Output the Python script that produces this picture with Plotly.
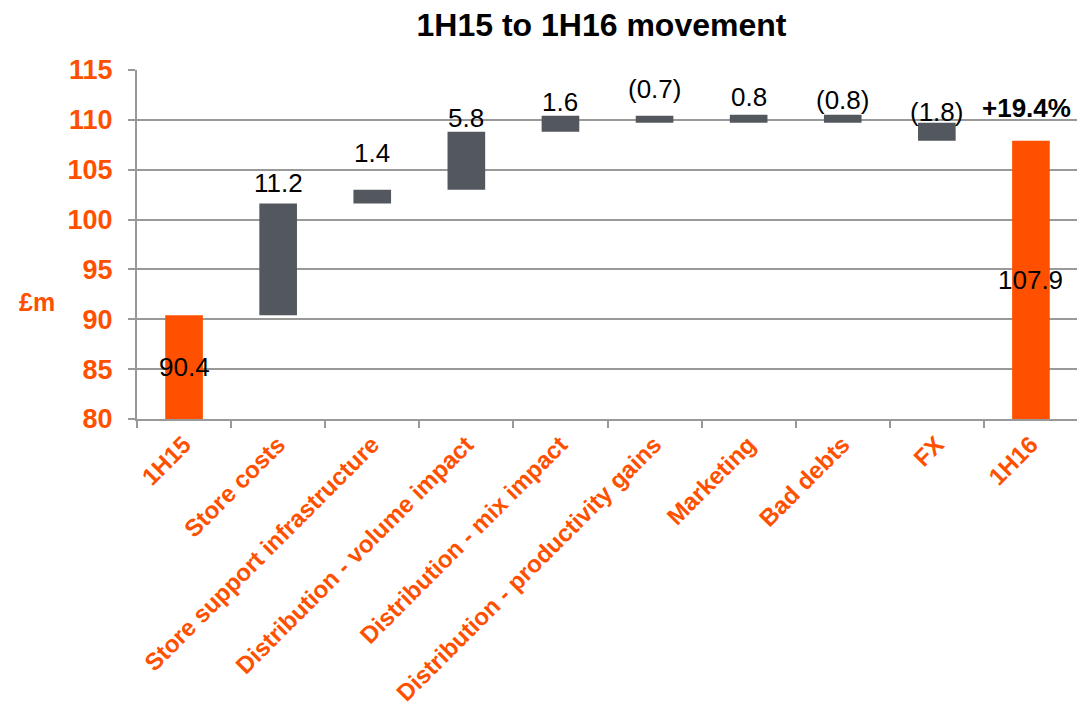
import plotly.graph_objects as go

categories = ["1H15", "Store costs", "Store support infrastructure",
              "Distribution - volume impact", "Distribution - mix impact",
              "Distribution - productivity gains", "Marketing", "Bad debts",
              "FX", "1H16"]
start_value = 90.4
changes = [11.2, 1.4, 5.8, 1.6, -0.7, 0.8, -0.8, -1.8]
end_value = 107.9
growth_label = "+19.4%"
y_ticks = [80, 85, 90, 95, 100, 105, 110, 115]

ORANGE = "#FF5000"
GREY = "#53575E"
AXIS_GREY = "#999999"
FONT = "Arial, Liberation Sans, sans-serif"

# build waterfall geometry
bases, heights, colors, labels = [], [], [], []
bases.append(0); heights.append(start_value); colors.append(ORANGE)
labels.append(f"{start_value:.1f}")
level = start_value
for c in changes:
    lo = min(level, level + c)
    bases.append(lo); heights.append(abs(c)); colors.append(GREY)
    labels.append(f"{c:.1f}" if c >= 0 else f"({abs(c):.1f})")
    level += c
bases.append(0); heights.append(end_value); colors.append(ORANGE)
labels.append(f"{end_value:.1f}")

fig = go.Figure(go.Bar(
    x=categories, y=heights, base=bases, marker_color=colors,
    marker_line_width=0, width=0.4, hoverinfo="skip"))

# label pixel shifts (style only)
label_shift = [0, 4, 20, -3, -3, 10, 1, -2, -6, 0]
LABEL_SIZE = 26
annotations = []
for i, cat in enumerate(categories):
    top = bases[i] + heights[i]
    if i == 0 or i == len(categories) - 1:
        annotations.append(dict(x=cat, y=(max(bases[i], y_ticks[0]) + top) / 2,
                                text=labels[i], showarrow=False, yanchor="middle",
                                font=dict(family=FONT, size=LABEL_SIZE, color="black")))
    else:
        annotations.append(dict(x=cat, y=top, text=labels[i], showarrow=False,
                                yanchor="bottom", yshift=label_shift[i],
                                font=dict(family=FONT, size=LABEL_SIZE, color="black")))
annotations.append(dict(x=categories[-1], y=end_value, text="<b>" + growth_label + "</b>",
                        showarrow=False, yanchor="bottom", yshift=16, xshift=-4,
                        font=dict(family=FONT, size=LABEL_SIZE, color="black")))
annotations.append(dict(xref="paper", yref="paper", x=-0.106, y=0.335,
                        xanchor="center", yanchor="middle",
                        text="<b>£m</b>", showarrow=False,
                        font=dict(family=FONT, size=25, color=ORANGE)))

fig.update_layout(
    width=1085, height=705,
    margin=dict(l=129, r=15, t=62, b=294, autoexpand=False),
    paper_bgcolor="white", plot_bgcolor="white",
    showlegend=False,
    title=dict(text="<b>1H15 to 1H16 movement</b>", x=0.547, xref="container",
               y=1 - 17 / 705, yref="container", xanchor="center", yanchor="middle",
               font=dict(family=FONT, size=32, color="black")),
    annotations=annotations,
    xaxis=dict(showline=True, linecolor=AXIS_GREY, linewidth=2,
               ticks="outside", tickson="boundaries", ticklen=7,
               tickcolor=AXIS_GREY, tickwidth=2, tickangle=-45,
               showgrid=False, automargin=False,
               tickfont=dict(family=FONT, size=24, color=ORANGE, weight="bold")),
    yaxis=dict(range=[80, 115], tickvals=y_ticks, showline=True,
               linecolor=AXIS_GREY, linewidth=2, ticks="outside", ticklen=7,
               tickcolor=AXIS_GREY, tickwidth=2, showgrid=True,
               gridcolor=AXIS_GREY, gridwidth=2, automargin=False,
               zeroline=False, ticklabelstandoff=10,
               tickfont=dict(family=FONT, size=27, color=ORANGE, weight="bold")),
)

fig.write_html("out.html")
